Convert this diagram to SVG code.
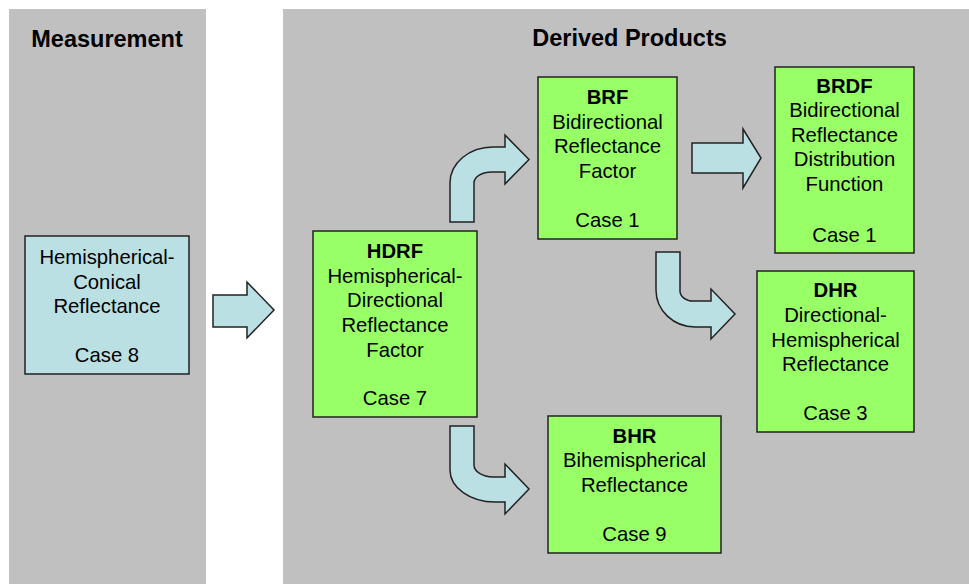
<svg xmlns="http://www.w3.org/2000/svg" width="969" height="584" viewBox="0 0 969 584">
<style>
.panel{fill:#C0C0C0}
.node{fill:#99FF66;stroke:#222;stroke-width:1.5}
.meas{fill:#BBE0E3;stroke:#222;stroke-width:1.5}
.arrow{fill:#BBE0E3;stroke:#222;stroke-width:1.5;stroke-linejoin:miter}
text{font-family:"Liberation Sans",Arial,sans-serif;fill:#000;text-anchor:middle}
.t{font-size:20.3px}
.b{font-size:20.3px;font-weight:bold}
.h{font-size:23.5px;font-weight:bold}
</style>
<rect width="969" height="584" fill="#fff"/>
<g id="panels">
<rect class="panel" x="9" y="9" width="197" height="575"/>
<rect class="panel" x="283" y="9" width="686" height="575"/>
<text class="h" x="107" y="47">Measurement</text>
<text class="h" x="629.5" y="46">Derived Products</text>
</g>
<g id="connectors">
<path class="arrow" d="M213,295 L247,295 L247,282 L274,310 L247,338 L247,327 L213,327 Z"/>
<path class="arrow" d="M692,143 L743,143 L743,129 L761,158 L743,188 L743,173 L692,173 Z"/>
<path class="arrow" d="M450,222 L450,183 A43,36 0 0 1 493,147 L505,147 L505,135 L529,159.5 L505,184 L505,172 L492,172 A18,11 0 0 0 474,183 L474,222 Z"/>
<path class="arrow" d="M656,252 L680,252 L680,291 A13,10 0 0 0 693,301 L711,301 L711,289 L735,314 L711,339 L711,327 L695,327 A39,37 0 0 1 656,290 Z"/>
<path class="arrow" d="M450,426 L474,426 L474,465 A19,12 0 0 0 493,477 L505,477 L505,464 L529,489 L505,514 L505,502 L495,502 A45,32 0 0 1 450,470 Z"/>
</g>
<g id="node-hcr">
<rect class="meas" x="25" y="236" width="164" height="138"/>
<text class="t" x="107" y="264">Hemispherical-</text>
<text class="t" x="107" y="288.5">Conical</text>
<text class="t" x="107" y="313">Reflectance</text>
<text class="t" x="107" y="362">Case 8</text>
</g>
<g id="node-hdrf">
<rect class="node" x="313" y="231" width="164" height="186"/>
<text class="b" x="395" y="258">HDRF</text>
<text class="t" x="395" y="283">Hemispherical-</text>
<text class="t" x="395" y="307">Directional</text>
<text class="t" x="395" y="332">Reflectance</text>
<text class="t" x="395" y="357">Factor</text>
<text class="t" x="395" y="405">Case 7</text>
</g>
<g id="node-brf">
<rect class="node" x="538" y="77" width="139" height="162"/>
<text class="b" x="607.5" y="104">BRF</text>
<text class="t" x="607.5" y="128.5">Bidirectional</text>
<text class="t" x="607.5" y="153">Reflectance</text>
<text class="t" x="607.5" y="177.5">Factor</text>
<text class="t" x="607.5" y="226.5">Case 1</text>
</g>
<g id="node-brdf">
<rect class="node" x="775" y="67" width="139" height="186"/>
<text class="b" x="844.5" y="93">BRDF</text>
<text class="t" x="844.5" y="117">Bidirectional</text>
<text class="t" x="844.5" y="142">Reflectance</text>
<text class="t" x="844.5" y="166">Distribution</text>
<text class="t" x="844.5" y="191">Function</text>
<text class="t" x="844.5" y="242">Case 1</text>
</g>
<g id="node-dhr">
<rect class="node" x="757" y="271" width="157" height="161"/>
<text class="b" x="835.5" y="297">DHR</text>
<text class="t" x="835.5" y="322">Directional-</text>
<text class="t" x="835.5" y="347">Hemispherical</text>
<text class="t" x="835.5" y="371">Reflectance</text>
<text class="t" x="835.5" y="420">Case 3</text>
</g>
<g id="node-bhr">
<rect class="node" x="548" y="416" width="173" height="137"/>
<text class="b" x="634.5" y="443">BHR</text>
<text class="t" x="634.5" y="467">Bihemispherical</text>
<text class="t" x="634.5" y="492">Reflectance</text>
<text class="t" x="634.5" y="541">Case 9</text>
</g>
</svg>
